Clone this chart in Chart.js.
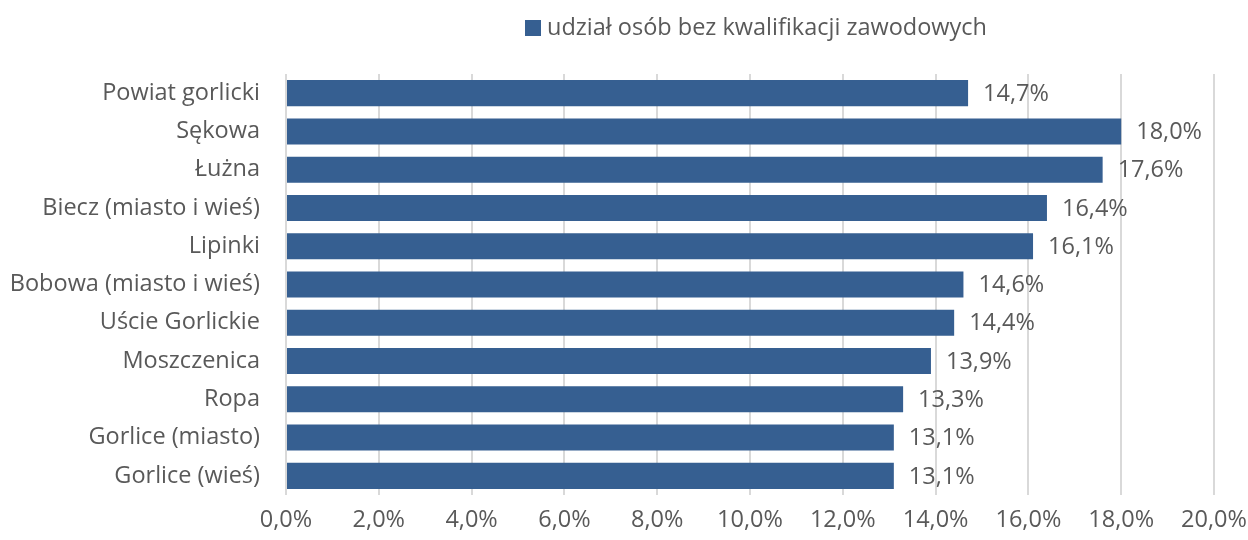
<!DOCTYPE html>
<html>
<head>
<meta charset="utf-8">
<script src="https://cdn.jsdelivr.net/npm/chart.js@4"></script>
<style>
  html, body { margin: 0; padding: 0; background: #fff; }
  #wrap { position: relative; width: 1248px; height: 540px; }
  #legend { position: absolute; top: 10px; left: 525px; font: 23.5px "Open Sans", sans-serif; color: #595959; white-space: nowrap; }
  #legend span.box { display: inline-block; width: 16px; height: 16px; background: #365f91; margin-right: 6px; vertical-align: -1px; }
</style>
</head>
<body>
<div id="wrap">
  <div id="legend"><span class="box"></span>udział osób bez kwalifikacji zawodowych</div>
  <canvas id="chart" width="1248" height="540"></canvas>
</div>
<script>
const categories = ['Powiat gorlicki', 'Sękowa', 'Łużna', 'Biecz (miasto i wieś)', 'Lipinki', 'Bobowa (miasto i wieś)', 'Uście Gorlickie', 'Moszczenica', 'Ropa', 'Gorlice (miasto)', 'Gorlice (wieś)'];
const values = [14.7, 18.0, 17.6, 16.4, 16.1, 14.6, 14.4, 13.9, 13.3, 13.1, 13.1];
const seriesName = 'udział osób bez kwalifikacji zawodowych';

const FONT = '"Open Sans", sans-serif';
const TEXT = '#595959';
const SIZE = 23.5;

function pct(v) { return v.toFixed(1).replace('.', ',') + '%'; }

/* etykiety wartości przy końcu słupka */
const valueLabels = {
  id: 'valueLabels',
  afterDatasetsDraw(chart) {
    const ctx = chart.ctx;
    const meta = chart.getDatasetMeta(0);
    ctx.save();
    ctx.font = SIZE + 'px ' + FONT;
    ctx.fillStyle = TEXT;
    ctx.textBaseline = 'middle';
    ctx.textAlign = 'left';
    meta.data.forEach((bar, i) => {
      ctx.fillText(pct(values[i]), bar.x + 15, bar.y + 1);
    });
    ctx.restore();
  }
};

new Chart(document.getElementById('chart'), {
  type: 'bar',
  data: {
    labels: categories,
    datasets: [{
      label: seriesName,
      data: values,
      backgroundColor: '#365f91',
      categoryPercentage: 1,
      barPercentage: 0.68
    }]
  },
  options: {
    indexAxis: 'y',
    responsive: false,
    animation: false,
    layout: { padding: { top: 74, right: 34, bottom: 0, left: 0 } },
    plugins: { legend: { display: false }, tooltip: { enabled: false } },
    scales: {
      x: {
        min: 0, max: 20,
        afterFit: s => { s.height = 45; s.paddingLeft = 0; s.paddingRight = 0; },
        ticks: { stepSize: 2, callback: v => pct(v), font: { family: FONT, size: SIZE }, color: TEXT, padding: 11 },
        grid: { color: '#d9d9d9', lineWidth: 2, drawTicks: false },
        border: { display: false }
      },
      y: {
        afterFit: s => { s.width = 286; },
        ticks: { font: { family: FONT, size: SIZE }, color: TEXT, padding: 26 },
        grid: { display: false, drawTicks: false },
        border: { display: false }
      }
    }
  },
  plugins: [valueLabels]
});
</script>
</body>
</html>
